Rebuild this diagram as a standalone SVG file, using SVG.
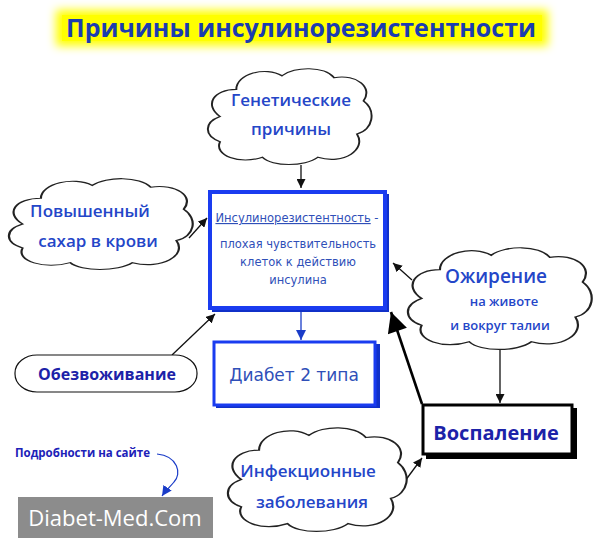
<svg xmlns="http://www.w3.org/2000/svg" width="600" height="556" viewBox="0 0 600 556">
<style>
.cloud{fill:#fff;stroke:#222;stroke-width:1.2;vector-effect:non-scaling-stroke}
.ct{font-family:"Open Sans","Liberation Sans",sans-serif;font-weight:600;fill:#2446c8;text-anchor:middle}
.vt{font-family:"DejaVu Sans","Liberation Sans",sans-serif;fill:#2f4fb8;text-anchor:middle}
.bt{font-family:"Open Sans","Liberation Sans",sans-serif;font-weight:700;fill:#1c22a8;text-anchor:middle}
.ln{stroke:#111;stroke-width:1.3;fill:none}
</style>
<defs>
<filter id="glow" x="-10%" y="-60%" width="120%" height="220%"><feGaussianBlur stdDeviation="5"/></filter>
<path id="cl" d="M8,50 C-2,38 4,22 18,22 C18,6 36,-2 46,8 C54,-2 72,-2 78,10 C92,6 102,20 96,34 C104,44 102,64 92,68 C98,84 84,100 68,92 C60,102 40,102 34,92 C20,100 4,90 8,76 C-2,70 -2,56 8,50 Z"/>
<marker id="ah" viewBox="0 0 10 10" refX="10" refY="5" markerWidth="9" markerHeight="9" markerUnits="userSpaceOnUse" orient="auto"><path d="M0,0 L10,5 L0,10 Z" fill="#111"/></marker>
<marker id="ahb" viewBox="0 0 10 10" refX="10" refY="5" markerWidth="10" markerHeight="10" markerUnits="userSpaceOnUse" orient="auto"><path d="M0,0 L10,5 L0,10 Z" fill="#1a3cc8"/></marker>
<marker id="big" viewBox="0 0 10 10" refX="10" refY="5" markerWidth="22" markerHeight="20" markerUnits="userSpaceOnUse" orient="auto"><path d="M0,0 L10,5 L0,10 Z" fill="#000"/></marker>
</defs>
<rect width="600" height="556" fill="#fff"/>
<g id="title">
<rect x="56" y="10" width="492" height="36" fill="#ffff00" filter="url(#glow)"/>
<rect x="62" y="15" width="480" height="26" fill="#ffff00"/>
<text x="301" y="37" font-family="Open Sans,Liberation Sans,sans-serif" font-weight="700" font-size="25" fill="#1b3cb0" text-anchor="middle" textLength="470" lengthAdjust="spacingAndGlyphs">Причины инсулинорезистентности</text>
</g>
<g id="connectors">
<line class="ln" x1="301" y1="165" x2="301" y2="188" marker-end="url(#ah)"/>
<line class="ln" x1="189" y1="238" x2="207" y2="218" marker-end="url(#ah)"/>
<line class="ln" x1="412" y1="280" x2="393" y2="263" marker-end="url(#ah)"/>
<line class="ln" x1="172" y1="355" x2="215" y2="314" marker-end="url(#ah)"/>
<line x1="301" y1="311" x2="301" y2="340" stroke="#1a3cc8" stroke-width="1.3" marker-end="url(#ahb)"/>
<line class="ln" x1="500" y1="346" x2="500" y2="403" marker-end="url(#ah)"/>
<line x1="422" y1="404" x2="391" y2="312" stroke="#000" stroke-width="2.6" marker-end="url(#big)"/>
<line class="ln" x1="405" y1="481" x2="422" y2="458" marker-end="url(#ah)"/>
<path d="M157,454 C178,456 182,474 174,482 C170,487 166,490 162,496" fill="none" stroke="#1a3cc8" stroke-width="1.2" marker-end="url(#ahb)"/>
</g>
<g id="genetic">
<use href="#cl" class="cloud" transform="translate(207,68) scale(1.63,0.97)"/>
<text class="ct" font-size="17" x="291" y="106">Генетические</text>
<text class="ct" font-size="17" x="291" y="135">причины</text>
</g>
<g id="sugar">
<use href="#cl" class="cloud" transform="translate(8,178) scale(1.83,0.92)"/>
<text class="ct" font-size="17" x="90" y="217">Повышенный</text>
<text class="ct" font-size="17" x="98" y="247">сахар в крови</text>
</g>
<g id="main">
<rect x="212" y="194" width="177" height="118" fill="#1030c8"/>
<rect x="210" y="192" width="175" height="116" fill="#fff" stroke="#1a3cf0" stroke-width="4"/>
<text class="vt" font-size="11.5" x="297" y="222"><tspan text-decoration="underline">Инсулинорезистентность</tspan> -</text>
<text class="vt" font-size="11.5" x="298" y="248">плохая чувствительность</text>
<text class="vt" font-size="11.5" x="298" y="266">клеток к действию</text>
<text class="vt" font-size="11.5" x="298" y="284">инсулина</text>
</g>
<g id="diabetes">
<rect x="216" y="344" width="164" height="64" fill="#1030c8"/>
<rect x="214" y="342" width="161" height="63" fill="#fff" stroke="#1a3cf0" stroke-width="3"/>
<text class="vt" font-size="17" x="294" y="381" fill="#2446c0">Диабет 2 типа</text>
</g>
<g id="obesity">
<use href="#cl" class="cloud" transform="translate(407,247) scale(1.83,1.03)"/>
<text class="ct" font-size="19" x="496" y="283">Ожирение</text>
<text class="ct" font-size="13" x="504" y="306">на животе</text>
<text class="ct" font-size="13" x="500" y="330">и вокруг талии</text>
</g>
<g id="dehydration">
<rect x="15" y="355" width="182" height="37" rx="22" ry="18" fill="#fff" stroke="#111" stroke-width="1.2"/>
<text class="bt" font-size="16" x="107" y="380">Обезвоживание</text>
</g>
<g id="inflammation">
<rect x="426" y="408" width="151" height="51" fill="#000"/>
<rect x="423" y="405" width="149" height="49" fill="#fff" stroke="#000" stroke-width="3"/>
<text class="bt" font-size="20" x="496" y="440">Воспаление</text>
</g>
<g id="infection">
<use href="#cl" class="cloud" transform="translate(227,427) scale(1.78,1.05)"/>
<text class="ct" font-size="17" x="308" y="477">Инфекционные</text>
<text class="ct" font-size="17" x="312" y="508">заболевания</text>
</g>
<g id="site">
<text x="15" y="457" font-family="Open Sans,Liberation Sans,sans-serif" font-weight="700" font-size="11.5" fill="#1c22b8">Подробности на сайте</text>
<rect x="18" y="497" width="195" height="41" fill="#8c8c8c"/>
<text x="115" y="526" font-family="Open Sans,Liberation Sans,sans-serif" font-size="22" fill="#fff" text-anchor="middle">Diabet-Med.Com</text>
</g>
</svg>
